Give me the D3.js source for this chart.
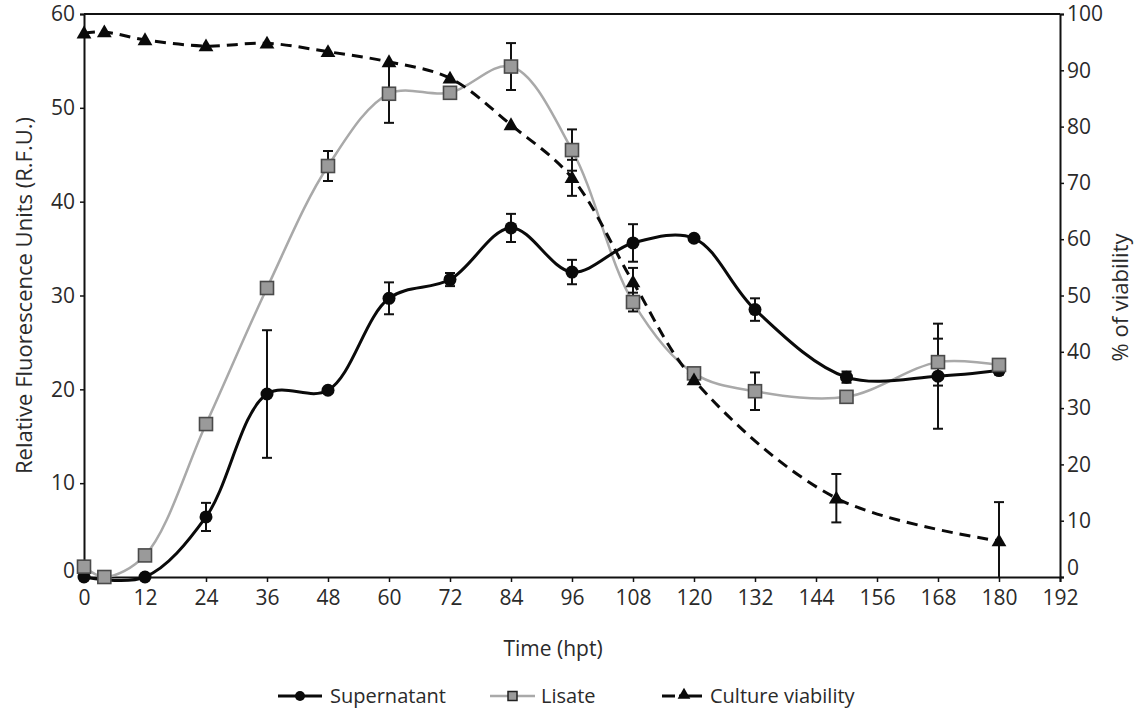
<!DOCTYPE html>
<html>
<head>
<meta charset="utf-8">
<script src="https://cdn.jsdelivr.net/npm/d3@7"></script>
<style>
  html, body { margin: 0; padding: 0; background: #fff; }
  svg { display: block; }
  text { font-family: "Open Sans", "Noto Sans", sans-serif; fill: #2a2a2a; }
</style>
</head>
<body>
<svg id="chart" width="1137" height="711"></svg>
<script>
// Supernatant fluorescence (R.F.U.)
const supTimes  = [0, 12, 24, 36, 48, 60, 72, 84, 96, 108, 120, 132, 150, 168, 180];
const supValues = [0, 0, 6.4, 19.5, 19.9, 29.7, 31.7, 37.2, 32.5, 35.6, 36.1, 28.5, 21.3, 21.4, 22.0];
const supErrors = [0, 0, 1.5, 6.8, 0, 1.7, 0.7, 1.5, 1.3, 2.0, 0, 1.2, 0.6, 5.6, 0.4];

// Lysate fluorescence (R.F.U.)
const lisTimes  = [0, 4, 12, 24, 36, 48, 60, 72, 84, 96, 108, 120, 132, 150, 168, 180];
const lisValues = [1.1, 0, 2.3, 16.3, 30.8, 43.8, 51.5, 51.6, 54.4, 45.5, 29.3, 21.7, 19.8, 19.2, 22.9, 22.6];
const lisErrors = [0, 0, 0, 0, 0, 1.6, 3.1, 0.5, 2.5, 2.2, 1.0, 0.5, 2.0, 0, 2.5, 0];

// Culture viability (%)
const viaTimes  = [0, 4, 12, 24, 36, 48, 60, 72, 84, 96, 108, 120, 148, 180];
const viaValues = [96.6, 96.8, 95.4, 94.3, 94.8, 93.3, 91.5, 88.6, 80.3, 70.9, 52.4, 35.0, 14.0, 6.4];
const viaErrors = [0, 0, 0, 0, 0, 0, 0, 0, 0, 3.2, 2.5, 0, 4.3, 6.9];

// Axis ticks
const xTicks      = [0, 12, 24, 36, 48, 60, 72, 84, 96, 108, 120, 132, 144, 156, 168, 180, 192];
const leftTicks   = [0, 10, 20, 30, 40, 50, 60];
const rightTicks  = [0, 10, 20, 30, 40, 50, 60, 70, 80, 90, 100];

const legendLabels = ["Supernatant", "Lisate", "Culture viability"];

const svg = d3.select("#chart");

const x  = d3.scaleLinear().domain([0, 192]).range([84, 1060]);
const yL = d3.scaleLinear().domain([0, 60]).range([577, 14]);
const yR = d3.scaleLinear().domain([0, 100]).range([577, 14]);

const tickFont = 21;
const titleFont = 22;
const legendFont = 20;

// top frame line
svg.append("line")
  .attr("x1", x(0)).attr("x2", x(192))
  .attr("y1", yL(60)).attr("y2", yL(60))
  .attr("stroke", "#111").attr("stroke-width", 2);

// axes
function styleAxis(g) {
  g.select(".domain").attr("stroke", "#111").attr("stroke-width", 2);
  g.selectAll(".tick line").attr("stroke", "#111").attr("stroke-width", 1.5);
  g.selectAll(".tick text")
    .style("font-family", "'Open Sans', 'Noto Sans', sans-serif")
    .style("font-size", tickFont + "px")
    .attr("fill", "#2a2a2a");
}

svg.append("g")
  .attr("transform", `translate(0,${yL(0)})`)
  .call(d3.axisBottom(x).tickValues(xTicks).tickSizeOuter(0).tickSize(5).tickPadding(8))
  .call(styleAxis);

svg.append("g")
  .attr("transform", `translate(${x(0)},0)`)
  .call(d3.axisLeft(yL).tickValues(leftTicks).tickSizeOuter(0).tickSize(4).tickPadding(5))
  .call(styleAxis)
  .call(g => g.selectAll(".tick text").filter(d => d === 0).attr("dy", "0em"));

svg.append("g")
  .attr("transform", `translate(${x(192)},0)`)
  .call(d3.axisRight(yR).tickValues(rightTicks).tickSizeOuter(0).tickSize(4).tickPadding(3))
  .call(styleAxis)
  .call(g => g.selectAll(".tick text").filter(d => d === 0).attr("dy", "-0.12em"));

// axis titles
svg.append("text")
  .attr("transform", `translate(32,${(yL(0) + yL(60)) / 2}) rotate(-90)`)
  .attr("text-anchor", "middle")
  .style("font-size", titleFont + "px")
  .text("Relative Fluorescence Units (R.F.U.)");

svg.append("text")
  .attr("transform", `translate(1128,${(yR(0) + yR(100)) / 2 + 2}) rotate(-90)`)
  .attr("text-anchor", "middle")
  .style("font-size", titleFont + "px")
  .text("% of viability");

svg.append("text")
  .attr("x", 553).attr("y", 656)
  .attr("text-anchor", "middle")
  .style("font-size", "21px")
  .text("Time (hpt)");

const curve = d3.curveCatmullRom.alpha(0.5);

function series(times, values, errors, yScale) {
  return times.map((t, i) => ({ t, v: values[i], e: errors[i], y: yScale }));
}

const sup = series(supTimes, supValues, supErrors, yL);
const lis = series(lisTimes, lisValues, lisErrors, yL);
const via = series(viaTimes, viaValues, viaErrors, yR);

// lines
function drawLine(data, color, width, dash) {
  const line = d3.line().x(d => x(d.t)).y(d => d.y(d.v)).curve(curve);
  svg.append("path")
    .datum(data)
    .attr("d", line)
    .attr("fill", "none")
    .attr("stroke", color)
    .attr("stroke-width", width)
    .attr("stroke-dasharray", dash || null);
}

// error bars
function drawErrors(data) {
  const g = svg.append("g").attr("stroke", "#111").attr("stroke-width", 2);
  data.filter(d => d.e > 0).forEach(d => {
    const cx = x(d.t);
    const lo = Math.min(d.y(d.v - d.e), d.y.range()[0]);
    const hi = d.y(d.v + d.e);
    g.append("line").attr("x1", cx).attr("x2", cx).attr("y1", lo).attr("y2", hi);
    g.append("line").attr("x1", cx - 5).attr("x2", cx + 5).attr("y1", hi).attr("y2", hi);
    if (d.y(d.v - d.e) <= d.y.range()[0]) {
      g.append("line").attr("x1", cx - 5).attr("x2", cx + 5).attr("y1", lo).attr("y2", lo);
    }
  });
}

drawLine(lis, "#a9a9a9", 2.5);
drawLine(sup, "#0a0a0a", 3);
drawLine(via, "#0a0a0a", 3, "11,7");

drawErrors(sup);
drawErrors(lis);
drawErrors(via);

// markers
const tri = d3.symbol().type(d3.symbolTriangle).size(95);

svg.append("g").selectAll("circle")
  .data(sup).join("circle")
  .attr("cx", d => x(d.t)).attr("cy", d => d.y(d.v))
  .attr("r", 6.5).attr("fill", "#0a0a0a");

svg.append("g").selectAll("rect")
  .data(lis).join("rect")
  .attr("x", d => x(d.t) - 6.5).attr("y", d => d.y(d.v) - 6.5)
  .attr("width", 13).attr("height", 13)
  .attr("fill", "#9a9a9a").attr("stroke", "#4a4a4a").attr("stroke-width", 1.6);

svg.append("g").selectAll("path")
  .data(via).join("path")
  .attr("transform", d => `translate(${x(d.t)},${d.y(d.v) + 1})`)
  .attr("d", tri)
  .attr("fill", "#0a0a0a");

// legend
const legendY = 696;
const lg = svg.append("g");

lg.append("line").attr("x1", 278).attr("x2", 322).attr("y1", legendY).attr("y2", legendY)
  .attr("stroke", "#0a0a0a").attr("stroke-width", 3);
lg.append("circle").attr("cx", 300).attr("cy", legendY).attr("r", 5).attr("fill", "#0a0a0a");
lg.append("text").attr("x", 330).attr("y", legendY + 7).style("font-size", legendFont + "px").text(legendLabels[0]);

lg.append("line").attr("x1", 490).attr("x2", 535).attr("y1", legendY).attr("y2", legendY)
  .attr("stroke", "#a9a9a9").attr("stroke-width", 2.5);
lg.append("rect").attr("x", 508).attr("y", legendY - 4.5).attr("width", 9).attr("height", 9)
  .attr("fill", "#9a9a9a").attr("stroke", "#222").attr("stroke-width", 1.5);
lg.append("text").attr("x", 541).attr("y", legendY + 7).style("font-size", legendFont + "px").text(legendLabels[1]);

lg.append("line").attr("x1", 662).attr("x2", 702).attr("y1", legendY).attr("y2", legendY)
  .attr("stroke", "#0a0a0a").attr("stroke-width", 3).attr("stroke-dasharray", "13,4,23");
lg.append("path").attr("transform", `translate(684,${legendY - 1})`)
  .attr("d", d3.symbol().type(d3.symbolTriangle).size(70)).attr("fill", "#0a0a0a");
lg.append("text").attr("x", 710).attr("y", legendY + 7).style("font-size", legendFont + "px").text(legendLabels[2]);
</script>
</body>
</html>
